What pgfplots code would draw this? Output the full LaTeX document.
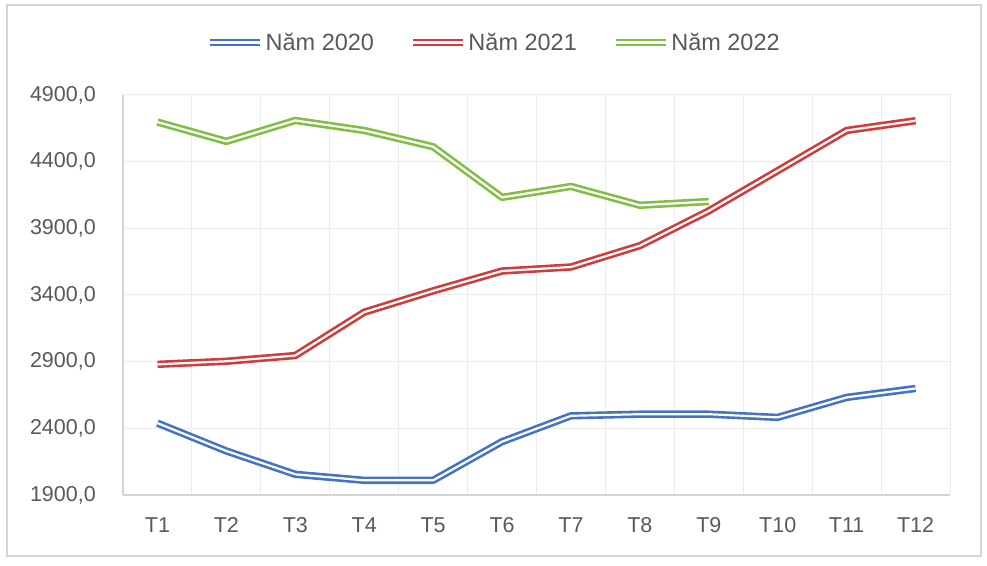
\documentclass[border=0pt]{standalone}
\usepackage{pgfplots}
\pgfplotsset{compat=1.18}
\usepackage{fontspec}
\setmainfont{Liberation Sans}

\definecolor{c2020}{HTML}{4472C4}
\definecolor{c2021}{HTML}{D13B3B}
\definecolor{c2022}{HTML}{82BE45}
\definecolor{txt}{HTML}{595959}
\definecolor{gridc}{HTML}{EBEBEB}
\definecolor{axisc}{HTML}{D4D4D4}

\pgfplotsset{
  dbl/.style={line width=2.6bp, double=white, double distance=2.2bp, line join=round},
}

\begin{document}
\begin{tikzpicture}[x=1bp,y=1bp]
\useasboundingbox (0,0) rectangle (987,566);
\draw[axisc, line width=2bp] (7,10) rectangle (981,561);
\begin{axis}[
  at={(123bp,71bp)}, anchor=south west,
  scale only axis,
  width=827bp, height=400bp,
  xmin=0.5, xmax=12.5,
  ymin=1900, ymax=4900,
  xtick={1,...,12},
  xticklabels={T1,T2,T3,T4,T5,T6,T7,T8,T9,T10,T11,T12},
  minor xtick={0.5,1.5,...,12.5},
  ytick={1900,2400,...,4900},
  xminorgrids=true, xmajorgrids=false, ymajorgrids=true,
  grid style={gridc, line width=1bp},
  minor grid style={gridc, line width=1bp},
  axis x line*=bottom, axis y line*=left,
  axis line style={axisc, line width=1.3bp, -},
  major tick length=0pt, minor tick length=0pt,
  tick label style={font=\fontsize{21.5bp}{25bp}\selectfont, text=txt},
  yticklabel style={inner sep=0pt, anchor=east, xshift=-27bp},
  xticklabel style={inner sep=0pt, anchor=base, yshift=-38bp},
  /pgf/number format/.cd, fixed, fixed zerofill, precision=1, use comma, 1000 sep={}, assume math mode=true,
  /pgfplots/.cd,
  legend columns=-1,
  legend style={at={(0.4486,1.131)}, anchor=center, draw=none, fill=none,
    font=\fontsize{23.5bp}{27bp}\selectfont, text=txt,
    /tikz/every even column/.append style={column sep=33bp},
    inner sep=0pt},
  legend image code/.code={\draw[#1] (0bp,0bp) -- (50bp,0bp);},
  legend cell align=left,
  clip=false,
]
\addplot[dbl, c2020] coordinates {
  (1,2439) (2,2230) (3,2055) (4,2010) (5,2010) (6,2300)
  (7,2494) (8,2506) (9,2506) (10,2482) (11,2632) (12,2699)
};
\addlegendentry{Năm 2020}
\addplot[dbl, c2021] coordinates {
  (1,2880) (2,2903) (3,2946) (4,3271) (5,3431) (6,3580)
  (7,3610) (8,3770) (9,4031) (10,4332) (11,4634) (12,4707)
};
\addlegendentry{Năm 2021}
\addplot[dbl, c2022] coordinates {
  (1,4697) (2,4552) (3,4709) (4,4634) (5,4512) (6,4132)
  (7,4214) (8,4073) (9,4101)
};
\addlegendentry{Năm 2022}
\end{axis}
\end{tikzpicture}
\end{document}
